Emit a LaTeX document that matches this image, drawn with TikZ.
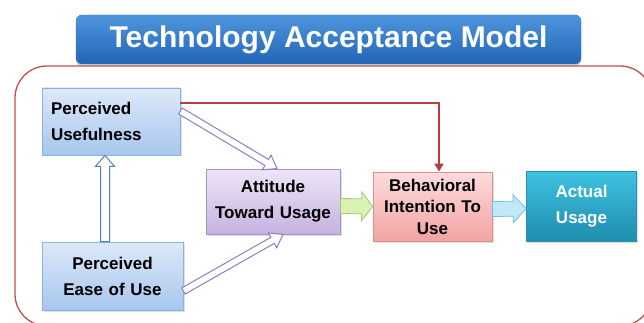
\documentclass[tikz,border=0pt]{standalone}
\usepackage{fontspec}
\setmainfont{Liberation Sans}
\usetikzlibrary{calc,shadows,arrows.meta}
\definecolor{frame}{HTML}{C0504D}
\definecolor{redline}{HTML}{B3403E}
\definecolor{bluetop}{HTML}{DDE9F8}
\definecolor{bluebot}{HTML}{A7C6EE}
\definecolor{blueedge}{HTML}{8EB0DC}
\definecolor{purtop}{HTML}{EDE5F7}
\definecolor{purbot}{HTML}{C6B2E1}
\definecolor{puredge}{HTML}{A593C8}
\definecolor{pinktop}{HTML}{FCDCDC}
\definecolor{pinkbot}{HTML}{F2A3A3}
\definecolor{pinkedge}{HTML}{D98F8F}
\definecolor{tealtop}{HTML}{40C2E2}
\definecolor{tealbot}{HTML}{1E8DAE}
\definecolor{tealedge}{HTML}{2A8FB0}
\definecolor{titletop}{HTML}{4F95DD}
\definecolor{titlebot}{HTML}{2164B6}
\definecolor{titleedge}{HTML}{3A78C0}
\definecolor{hollowblue}{HTML}{4F81BD}
\definecolor{hollowpur}{HTML}{8E7CC3}
\definecolor{greenfill}{HTML}{D9F2B3}
\definecolor{greenedge}{HTML}{9CCB6A}
\definecolor{cyanfill}{HTML}{C2E8F5}
\definecolor{cyanedge}{HTML}{6CC0DE}
\newcommand\blockarr[6]{%
  \coordinate (#2#3H) at ($(#3)!#6!(#2)$);
  \draw[#1] ($(#2)!#4!90:(#3)$) -- ($(#2#3H)!#4!90:(#3)$) -- ($(#2#3H)!#5!90:(#3)$)
    -- (#3) -- ($(#2#3H)!#5!-90:(#3)$) -- ($(#2#3H)!#4!-90:(#3)$) -- ($(#2)!#4!-90:(#3)$) -- cycle;
}
\tikzset{
  boxbase/.style={draw, line width=0.8pt, font=\bfseries\fontsize{17}{26}\selectfont,
    drop shadow={shadow xshift=1.5pt, shadow yshift=-1.5pt, opacity=0.25}},
  bluebox/.style={boxbase, top color=bluetop, bottom color=bluebot, draw=blueedge, text=black},
  purbox/.style={boxbase, top color=purtop, bottom color=purbot, draw=puredge, text=black},
  pinkbox/.style={boxbase, top color=pinktop, bottom color=pinkbot, draw=pinkedge, text=black},
  tealbox/.style={boxbase, top color=tealtop, bottom color=tealbot, draw=tealedge, text=white},
  hollowb/.style={draw=hollowblue, fill=white, line width=1pt, line join=miter},
  hollowp/.style={draw=hollowpur, fill=white, line width=1pt, line join=miter},
  greenarr/.style={draw=greenedge, fill=greenfill, line width=0.8pt},
  cyanarr/.style={draw=cyanedge, fill=cyanfill, line width=0.8pt},
}
\begin{document}
\begin{tikzpicture}[x=1pt,y=-1pt]
\useasboundingbox (0,0) rectangle (644,323);
% outer frame
\draw[frame, line width=1.3pt, rounded corners=32pt] (15,66) rectangle (652,326);
% title
\node[draw=titleedge, top color=titletop, bottom color=titlebot, rounded corners=6pt,
  minimum width=505pt, minimum height=49pt, inner sep=0pt,
  drop shadow={shadow xshift=0pt, shadow yshift=-2.5pt, opacity=0.35},
  text=white, font=\bfseries\fontsize{30}{30}\selectfont] (title) at (328.5,39.5) {Technology Acceptance Model};
% boxes
\node[bluebox, minimum width=138pt, minimum height=67pt, text width=120pt, inner xsep=9pt, align=left] (pu) at (111,121.5) {Perceived\\Usefulness};
\node[bluebox, minimum width=141pt, minimum height=68pt, text width=131pt, inner xsep=5pt, align=center] (peou) at (112.5,276) {Perceived\\Ease of Use};
\node[purbox, minimum width=134pt, minimum height=65pt, text width=130pt, inner xsep=2pt, align=center] (att) at (273,201.5) {Attitude\\Toward Usage};
\node[pinkbox, minimum width=119pt, minimum height=69pt, text width=115pt, inner xsep=2pt, align=center,
  font=\bfseries\fontsize{17}{21.5}\selectfont] (beh) at (432.5,206.5) {Behavioral\\Intention To\\Use};
\node[tealbox, minimum width=110pt, minimum height=70pt, text width=106pt, inner xsep=2pt, align=center] (act) at (581.5,206) {Actual\\Usage};
% connector end points
\coordinate (va) at ([xshift=-7.5pt]peou.north);
\coordinate (vb) at ([xshift=-6pt]pu.south);
\coordinate (pa) at ([yshift=10.5pt]pu.east);
\coordinate (pb) at ([xshift=4pt]att.north);
\coordinate (ea) at ([yshift=-15pt]peou.east);
\coordinate (eb) at ([xshift=10pt]att.south);
\coordinate (ga) at ([yshift=-4.5pt]att.east);
\coordinate (gb) at (beh.west);
\coordinate (ca) at ([yshift=-2.5pt]beh.east);
\coordinate (cb) at ([yshift=-2.5pt]act.west);
% hollow arrows
\blockarr{hollowb}{va}{vb}{4.5pt}{9.5pt}{11pt}
\blockarr{hollowp}{pa}{pb}{3.5pt}{8.5pt}{12pt}
\blockarr{hollowp}{ea}{eb}{3.5pt}{8.5pt}{12pt}
% filled block arrows
\blockarr{greenarr}{ga}{gb}{7.5pt}{14.5pt}{11pt}
\blockarr{cyanarr}{ca}{cb}{7.5pt}{14pt}{13pt}
% red connector
\draw[redline, line width=2.2pt, -{Triangle[width=9pt,length=8pt]}]
  ([yshift=18.5pt]pu.east) -| ([xshift=6.5pt]beh.north);
\end{tikzpicture}
\end{document}
